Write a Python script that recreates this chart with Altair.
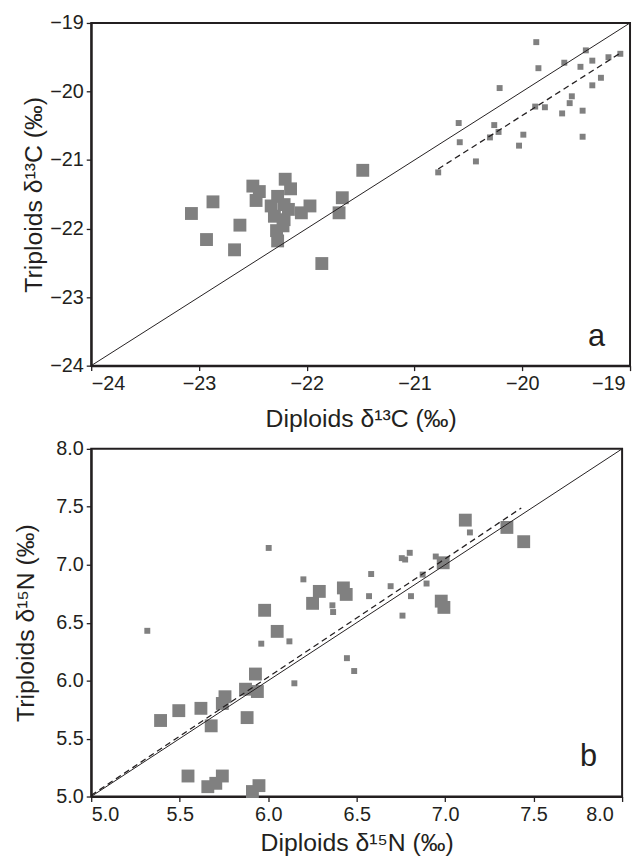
import altair as alt
import pandas as pd

FONT = "Liberation Sans"
INK = "#231f20"
GREY = "#808080"

# ---------------- Panel a : delta 13C ----------------
a_big_x = [-21.48, -21.67, -21.70, -22.20, -22.15, -22.50, -22.44, -22.47, -22.27, -22.87,
           -23.07, -21.97, -22.05, -22.33, -22.21, -22.30, -22.21, -22.22, -22.28, -22.27,
           -22.62, -22.93, -22.67, -21.86, -22.17]
a_big_y = [-21.15, -21.55, -21.77, -21.28, -21.42, -21.38, -21.46, -21.59, -21.53, -21.61,
           -21.78, -21.67, -21.77, -21.67, -21.65, -21.82, -21.87, -21.96, -22.03, -22.18,
           -21.95, -22.16, -22.31, -22.51, -21.72]
a_small_x = [-19.87, -19.41, -19.09, -19.20, -19.35, -19.61, -19.46, -19.85, -19.27, -19.35,
             -20.21, -19.54, -19.56, -19.88, -19.79, -19.44, -19.63, -20.59, -20.26, -20.22,
             -20.30, -19.99, -19.44, -20.58, -20.03, -20.43, -20.78]
a_small_y = [-19.28, -19.40, -19.45, -19.50, -19.55, -19.58, -19.64, -19.66, -19.80, -19.91,
             -19.95, -20.07, -20.17, -20.22, -20.23, -20.28, -20.32, -20.46, -20.49, -20.59,
             -20.67, -20.63, -20.66, -20.74, -20.79, -21.02, -21.18]
a_one_x = [-24, -19]
a_one_y = [-24, -19]
a_fit_x = [-20.78, -19.08]
a_fit_y = [-21.13, -19.43]
a_ticks = [-24, -23, -22, -21, -20, -19]

# ---------------- Panel b : delta 15N ----------------
b_big_x = [6.289, 6.251, 5.980, 6.051, 5.928, 5.872, 5.939, 5.756, 5.741, 5.620,
           5.495, 5.392, 5.678, 5.881, 5.547, 5.741, 5.704, 5.659, 5.948, 5.911,
           7.114, 7.349, 7.444, 6.989, 6.978, 6.993, 6.425, 6.441]
b_big_y = [6.770, 6.667, 6.607, 6.425, 6.057, 5.926, 5.906, 5.861, 5.803, 5.761,
           5.741, 5.656, 5.610, 5.681, 5.177, 5.177, 5.114, 5.085, 5.094, 5.043,
           7.385, 7.322, 7.199, 7.017, 6.686, 6.632, 6.800, 6.744]
b_small_x = [5.317, 5.961, 6.120, 6.148, 6.363, 6.367, 6.199, 6.003, 7.140, 6.947,
             6.800, 6.755, 6.774, 6.582, 6.873, 6.895, 6.692, 6.570, 6.807, 6.759,
             6.445, 6.486]
b_small_y = [6.430, 6.319, 6.339, 5.977, 6.650, 6.592, 6.874, 7.145, 7.279, 7.071,
             7.103, 7.057, 7.045, 6.920, 6.915, 6.838, 6.815, 6.729, 6.729, 6.561,
             6.194, 6.083]
b_one_x = [5.0, 8.0]
b_one_y = [5.0, 8.0]
b_fit_x = [5.0, 7.43]
b_fit_y = [5.01, 7.49]
b_ticks = [5.0, 5.5, 6.0, 6.5, 7.0, 7.5, 8.0]


def panel(bx, by, sx, sy, ox, oy, fx, fy, ticks, fmt, xtitle, ytitle,
          letter, lx, ly, width, height, last_test, last_off, ytitle_x, xtitle_y):
    dom = [ticks[0], ticks[-1]]
    xs = alt.Scale(domain=dom, nice=False, zero=False)
    ys = alt.Scale(domain=dom, nice=False, zero=False)
    common = dict(grid=False, values=ticks, format=fmt, tickSize=5, tickWidth=1.3,
                  tickColor=INK, domainColor=INK, domainWidth=2,
                  labelFont=FONT, labelFontSize=20, labelColor=INK,
                  titleFont=FONT, titleFontSize=25, titleFontWeight="normal",
                  titleColor=INK)
    xaxis = alt.Axis(title=xtitle, labelPadding=3, titleX=width / 2, titleY=xtitle_y,
                     titleAlign="center", titleBaseline="middle",
                     labelOffset={"condition": {"test": last_test, "value": last_off}, "value": 0},
                     **common)
    yaxis = alt.Axis(title=ytitle, labelPadding=3, titleX=ytitle_x, titleY=height / 2,
                     titleAngle=-90, titleAlign="center", titleBaseline="middle",
                     **common)

    big = pd.DataFrame({"x": bx, "y": by})
    small = pd.DataFrame({"x": sx, "y": sy})
    one = pd.DataFrame({"x": ox, "y": oy})
    fit = pd.DataFrame({"x": fx, "y": fy})
    lab = pd.DataFrame({"x": [lx], "y": [ly], "t": [letter]})

    enc = dict(x=alt.X("x:Q", scale=xs, axis=xaxis), y=alt.Y("y:Q", scale=ys, axis=yaxis))
    l_big = alt.Chart(big).mark_square(size=169, color=GREY, opacity=1).encode(**enc)
    l_small = alt.Chart(small).mark_square(size=36, color=GREY, opacity=1).encode(x="x:Q", y="y:Q")
    l_one = alt.Chart(one).mark_line(color=INK, strokeWidth=1).encode(x="x:Q", y="y:Q")
    l_fit = alt.Chart(fit).mark_line(color=INK, strokeWidth=1.3, strokeDash=[6, 4]).encode(x="x:Q", y="y:Q")
    l_lab = alt.Chart(lab).mark_text(font=FONT, fontSize=31, color=INK, align="center",
                                     baseline="middle").encode(x="x:Q", y="y:Q", text="t:N")
    return alt.layer(l_big, l_small, l_one, l_fit, l_lab).properties(width=width, height=height)


top = panel(a_big_x, a_big_y, a_small_x, a_small_y, a_one_x, a_one_y, a_fit_x, a_fit_y,
            a_ticks, "d", "Diploids δ¹³C (‰)", "Triploids δ¹³C (‰)",
            "a", -19.31, -23.58, 544, 346, "datum.value == -19", -5, -58, 53)
bottom = panel(b_big_x, b_big_y, b_small_x, b_small_y, b_one_x, b_one_y, b_fit_x, b_fit_y,
               b_ticks, ".1f", "Diploids δ¹⁵N (‰)", "Triploids δ¹⁵N (‰)",
               "b", 7.81, 5.34, 536, 351, "datum.value == 8", -9, -66, 47)

chart = alt.concat(top, bottom, columns=1, spacing=6).properties(
    align="none", bounds="full",
    padding={"left": 5, "top": 0, "right": 0, "bottom": 0},
    background="white",
).configure_view(stroke=INK, strokeWidth=2)

chart.save("out.html", embed_options={"renderer": "svg", "actions": False})
